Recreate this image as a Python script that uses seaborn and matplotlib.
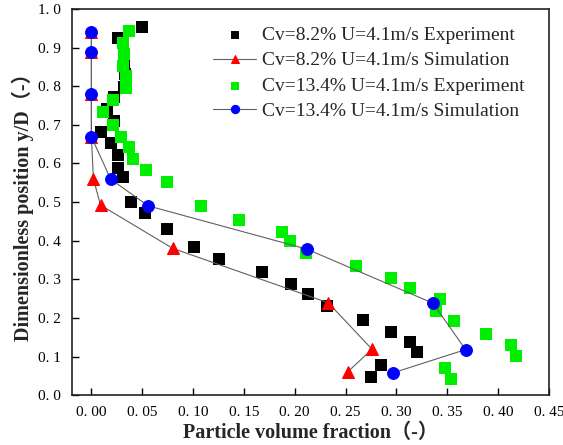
import matplotlib
matplotlib.use("Agg")
import matplotlib.pyplot as plt
import seaborn as sns
import pandas as pd

# Cv=8.2% experiment
exp82_x = [0.050, 0.026, 0.032, 0.033, 0.032, 0.022, 0.015, 0.022, 0.009, 0.019, 0.026, 0.026, 0.031,
           0.039, 0.053, 0.074, 0.101, 0.126, 0.168, 0.196, 0.213, 0.232, 0.267, 0.295, 0.313, 0.320, 0.285, 0.275]
exp82_y = [0.954, 0.924, 0.863, 0.832, 0.799, 0.773, 0.740, 0.711, 0.681, 0.654, 0.621, 0.587, 0.564,
           0.501, 0.471, 0.430, 0.384, 0.353, 0.318, 0.288, 0.261, 0.231, 0.194, 0.164, 0.137, 0.111, 0.079, 0.048]
# Cv=8.2% simulation
sim82_x = [0.000, 0.000, 0.000, 0.000, 0.002, 0.009, 0.080, 0.233, 0.276, 0.252]
sim82_y = [0.940, 0.889, 0.779, 0.669, 0.560, 0.492, 0.380, 0.239, 0.119, 0.060]
# Cv=13.4% experiment
exp134_x = [0.037, 0.031, 0.032, 0.031, 0.034, 0.034, 0.021, 0.011, 0.021, 0.029, 0.037, 0.041, 0.054, 0.074,
            0.108, 0.145, 0.187, 0.195, 0.211, 0.260, 0.295, 0.313, 0.343, 0.339, 0.357, 0.388, 0.413, 0.418,
            0.348, 0.354]
exp134_y = [0.943, 0.913, 0.883, 0.851, 0.825, 0.794, 0.764, 0.732, 0.699, 0.669, 0.643, 0.611, 0.583, 0.551,
            0.490, 0.453, 0.423, 0.400, 0.367, 0.334, 0.304, 0.278, 0.250, 0.218, 0.191, 0.158, 0.131, 0.102,
            0.071, 0.041]
# Cv=13.4% simulation
sim134_x = [0.000, 0.000, 0.000, 0.000, 0.019, 0.056, 0.212, 0.336, 0.368, 0.297]
sim134_y = [0.940, 0.889, 0.779, 0.669, 0.559, 0.490, 0.378, 0.238, 0.118, 0.058]

x_ticks = [0.00, 0.05, 0.10, 0.15, 0.20, 0.25, 0.30, 0.35, 0.40, 0.45]
x_ticklabels = ["0. 00", "0. 05", "0. 10", "0. 15", "0. 20", "0. 25", "0. 30", "0. 35", "0. 40", "0. 45"]
y_ticks = [0.0, 0.1, 0.2, 0.3, 0.4, 0.5, 0.6, 0.7, 0.8, 0.9, 1.0]
y_ticklabels = ["0. 0", "0. 1", "0. 2", "0. 3", "0. 4", "0. 5", "0. 6", "0. 7", "0. 8", "0. 9", "1. 0"]

labels = ["Cv=8.2% U=4.1m/s Experiment", "Cv=8.2% U=4.1m/s Simulation",
          "Cv=13.4% U=4.1m/s Experiment", "Cv=13.4% U=4.1m/s Simulation"]

sns.set_style("ticks")
plt.rcParams['font.family'] = ['Liberation Serif', 'Noto Sans CJK SC', 'DejaVu Sans']

fig = plt.figure(figsize=(5.63, 4.45), dpi=100)
ax = fig.add_axes([0.128, 0.112, 0.847, 0.868])

d_exp82 = pd.DataFrame({"x": exp82_x, "y": exp82_y})
d_sim82 = pd.DataFrame({"x": sim82_x, "y": sim82_y})
d_exp134 = pd.DataFrame({"x": exp134_x, "y": exp134_y})
d_sim134 = pd.DataFrame({"x": sim134_x, "y": sim134_y})

ms = 8
sns.scatterplot(data=d_exp82, x="x", y="y", ax=ax, marker="s", color="black", s=ms**2,
                linewidth=0, label=labels[0], zorder=3)
sns.lineplot(data=d_sim82, x="x", y="y", ax=ax, sort=False, estimator=None, color="#606060",
             linewidth=0.8, marker="^", markersize=ms + 1, markerfacecolor="#ff0000",
             markeredgecolor="#ff0000", label=labels[1], zorder=4)
sns.scatterplot(data=d_exp134, x="x", y="y", ax=ax, marker="s", color="#00ee00", s=ms**2,
                linewidth=0, label=labels[2], zorder=3)
sns.lineplot(data=d_sim134, x="x", y="y", ax=ax, sort=False, estimator=None, color="#606060",
             linewidth=0.8, marker="o", markersize=ms + 0.5, markerfacecolor="#0000ff",
             markeredgecolor="#0000ff", label=labels[3], zorder=5)

ax.set_xlim(-0.019, 0.45)
ax.set_ylim(0.0, 1.0)
ax.set_xticks(x_ticks)
ax.set_xticklabels(x_ticklabels)
ax.set_yticks(y_ticks)
ax.set_yticklabels(y_ticklabels)
ax.tick_params(direction="in", length=5, width=1, labelsize=11, colors="black", pad=8)
for s in ax.spines.values():
    s.set_linewidth(1.2)
    s.set_color("#222222")

lab_font = dict(family=['Liberation Serif', 'Noto Sans CJK SC'], fontweight="bold", fontsize=14.5)
ax.set_xlabel("Particle volume fraction（-）", **lab_font, labelpad=3)
ax.set_ylabel("Dimensionless position y/D（-）", **lab_font, labelpad=3)

leg = ax.legend(loc="upper left", bbox_to_anchor=(0.28, 0.975), frameon=False, fontsize=14,
                handlelength=2.2, handletextpad=0.3, labelspacing=0.4, borderaxespad=0,
                markerscale=0.7)

fig.savefig("out.png", dpi=100)
